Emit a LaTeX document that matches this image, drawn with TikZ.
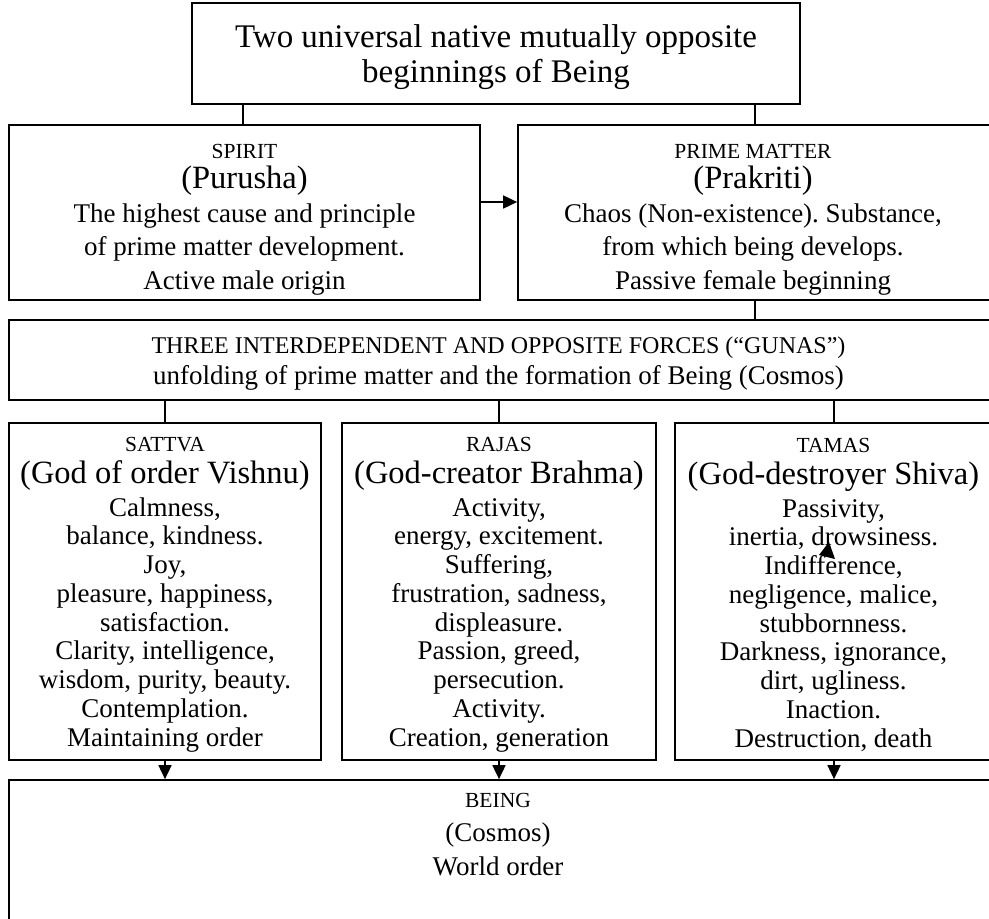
\documentclass[tikz,border=0pt]{standalone}
\usepackage{fontspec}
\setmainfont{Liberation Serif}
\usetikzlibrary{arrows.meta}
% size switches used inside the boxes
\newcommand\bigsz{\fontsize{32.5}{36}\selectfont}
\newcommand\capsz{\fontsize{21.5}{26}\selectfont}
\begin{document}
\frenchspacing
\begin{tikzpicture}[x=1pt,y=-1pt,
  box/.style={draw, line width=1.7pt, inner sep=0pt},
  txt/.style={inner sep=0pt, align=center},
  link/.style={line width=1.7pt},
  tip/.style={line width=1.7pt, -{Triangle[length=14pt,width=13pt]}},
]
\useasboundingbox (0,0) rectangle (989,919);
\clip (0,0) rectangle (989,919);

% frames
\node[box, minimum width=608, minimum height=101] (top)    at (496,53.5) {};
\node[box, minimum width=471, minimum height=175] (spirit) at (244.5,212.5) {};
\node[box, minimum width=474, minimum height=175] (prime)  at (755,212.5) {};
\node[box, minimum width=983, minimum height=80]  (three)  at (500.5,360) {};
\node[box, minimum width=312, minimum height=337] (sattva) at (165,591.5) {};
\node[box, minimum width=314, minimum height=337] (rajas)  at (499,591.5) {};
\node[box, minimum width=318, minimum height=337] (tamas)  at (834,591.5) {};
\node[box, minimum width=983, minimum height=160] (being)  at (500.5,860) {};

% texts
\node[txt, font=\fontsize{33}{35}\selectfont] (top-t) at (496,57.5)
  {Two universal native mutually opposite\\beginnings of Being};

\node[txt, font=\fontsize{27}{33.5}\selectfont] (spirit-t) at (244.5,219.5)
  {{\capsz SPIRIT}\\[-3pt]{\bigsz (Purusha)}\\The highest cause and principle\\of prime matter development.\\Active male origin};
\node[txt, font=\fontsize{27}{33.5}\selectfont] (prime-t) at (753,219.5)
  {{\capsz PRIME MATTER}\\[-3pt]{\bigsz (Prakriti)}\\Chaos (Non-existence). Substance,\\from which being develops.\\Passive female beginning};

\node[txt, font=\fontsize{27}{31.5}\selectfont] (three-t) at (498.5,363.5)
  {{\fontsize{24}{26}\selectfont THREE INTERDEPENDENT AND OPPOSITE FORCES (``GUNAS'')}\\unfolding of prime matter and the formation of Being (Cosmos)};

\node[txt, font=\fontsize{27}{28.75}\selectfont] (sattva-t) at (165,594.5)
  {{\capsz SATTVA}\\[3.25pt]{\bigsz (God of order Vishnu)}\\[4.25pt]Calmness,\\balance, kindness.\\Joy,\\pleasure, happiness,\\satisfaction.\\Clarity, intelligence,\\wisdom, purity, beauty.\\Contemplation.\\Maintaining order};
\node[txt, font=\fontsize{27}{28.75}\selectfont] (rajas-t) at (499,594.5)
  {{\capsz RAJAS}\\[3.25pt]{\bigsz (God-creator Brahma)}\\[4.25pt]Activity,\\energy, excitement.\\Suffering,\\frustration, sadness,\\displeasure.\\Passion, greed,\\persecution.\\Activity.\\Creation, generation};
\node[txt, font=\fontsize{27}{28.75}\selectfont] (tamas-t) at (833.5,594.5)
  {{\capsz TAMAS}\\[3.25pt]{\bigsz (God-destroyer Shiva)}\\[4.25pt]Passivity,\\inertia, drowsiness.\\Indifference,\\negligence, malice,\\stubbornness.\\Darkness, ignorance,\\dirt, ugliness.\\Inaction.\\Destruction, death};

\node[txt, font=\fontsize{27}{34}\selectfont] (being-t) at (498,835)
  {{\capsz BEING}\\(Cosmos)\\World order};

% connectors
\coordinate (lt) at (243,0);
\draw[link] (top.south -| lt) -- (spirit.north -| lt);
\draw[link] (top.south -| prime.north) -- (prime.north);
\coordinate (mid) at (0,202);
\draw[tip] (spirit.east |- mid) -- (prime.west |- mid);
\draw[link] (prime.south) -- (three.north -| prime.south);
\foreach \g in {sattva,rajas,tamas}{
  \draw[link] (three.south -| \g.north) -- (\g.north);
  \draw[tip] (\g.south) -- (being.north -| \g.south);
}

% loose arrowhead over the word "drowsiness"
\fill (819,555) -- (829,542) -- (835,559) -- cycle;
\end{tikzpicture}
\end{document}
